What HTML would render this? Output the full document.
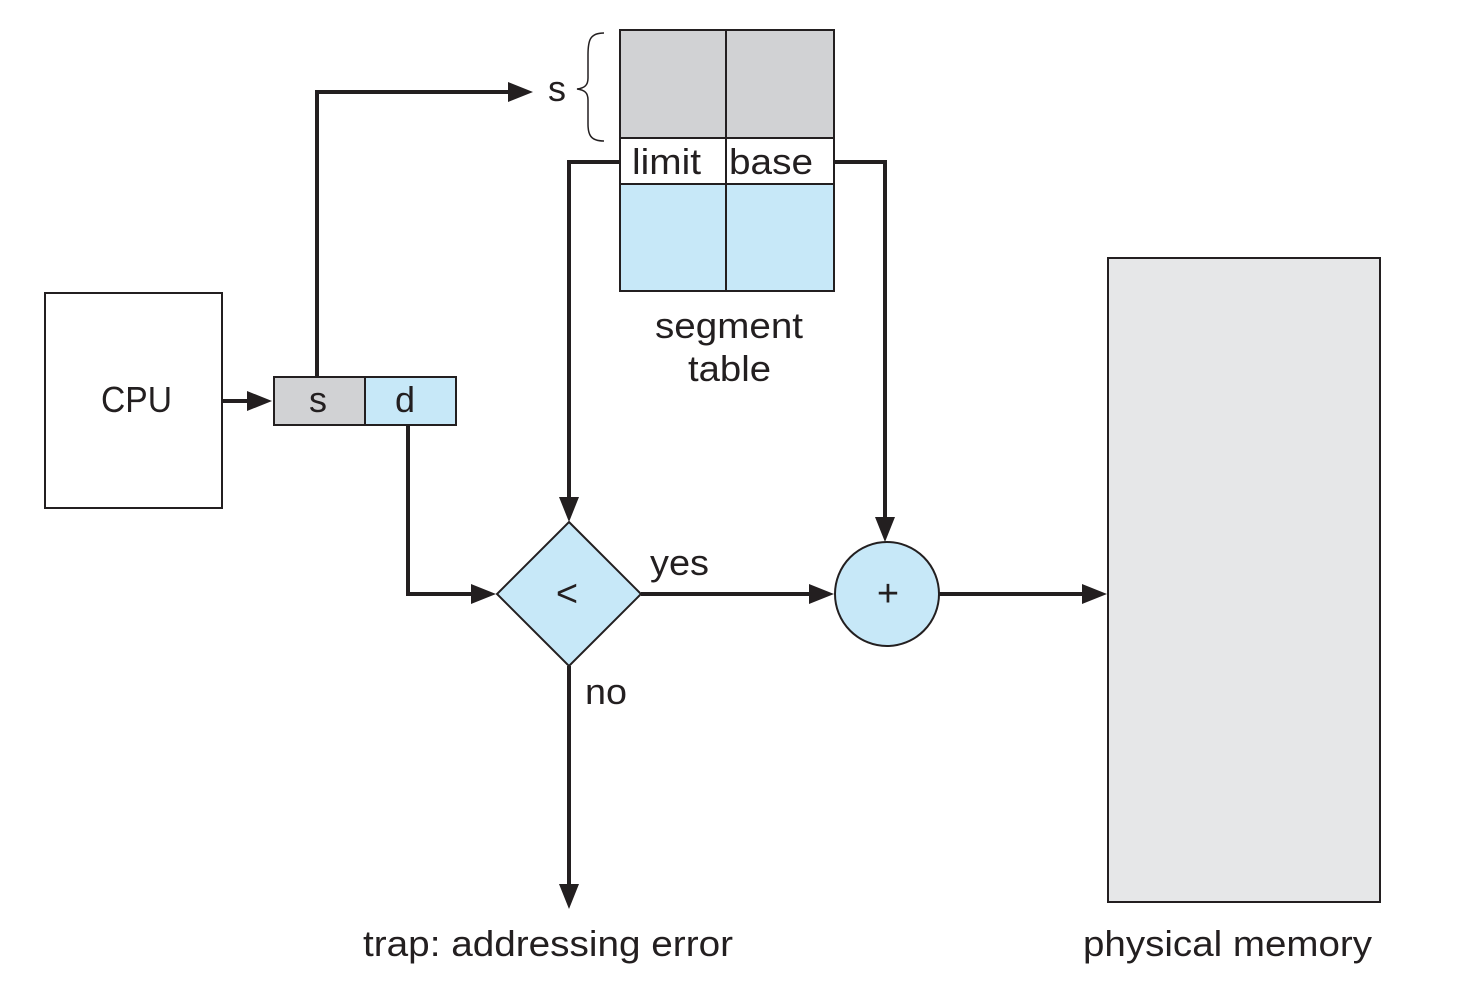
<!DOCTYPE html>
<html><head><meta charset="utf-8"><style>
html,body{margin:0;padding:0;background:#fff;}
svg{display:block;}
text{font-family:"Liberation Sans",Arial,sans-serif;fill:#231f20;}
</style></head><body>
<svg width="1484" height="996" viewBox="0 0 1484 996" xmlns="http://www.w3.org/2000/svg">
<g stroke="#231f20" stroke-width="2">
<rect x="45" y="293" width="177" height="215" fill="#fff"/>
<rect x="274" y="377" width="91" height="48" fill="#d1d2d4"/>
<rect x="365" y="377" width="91" height="48" fill="#c7e8f8"/>
<rect x="620" y="30" width="106" height="108" fill="#d1d2d4"/>
<rect x="726" y="30" width="108" height="108" fill="#d1d2d4"/>
<rect x="620" y="138" width="106" height="46" fill="#fff"/>
<rect x="726" y="138" width="108" height="46" fill="#fff"/>
<rect x="620" y="184" width="106" height="107" fill="#c7e8f8"/>
<rect x="726" y="184" width="108" height="107" fill="#c7e8f8"/>
<rect x="1108" y="258" width="272" height="644" fill="#e6e7e8"/>
<polygon points="569,522 641,594 569,666 497,594" fill="#c7e8f8"/>
<circle cx="887" cy="594" r="52" fill="#c7e8f8"/>
<path d="M604,33 C590,33 588,40 588,55 L588,78 C588,85 585,88 577,89 C585,90 588,93 588,100 L588,124 C588,134 590,141 604,141" fill="none" stroke-width="1.5"/>
</g>
<g stroke="#231f20" stroke-width="4" fill="none">
<path d="M222,401 H252"/>
<path d="M317,377 V92 H510"/>
<path d="M620,162 H569 V498"/>
<path d="M834,162 H885 V518"/>
<path d="M408,425 V594 H474"/>
<path d="M641,594 H812"/>
<path d="M939,594 H1085"/>
<path d="M569,666 V885"/>
</g>
<g fill="#231f20">
<polygon points="272,401 247,391 247,411"/>
<polygon points="533,92 508,82 508,102"/>
<polygon points="569,522 559,497 579,497"/>
<polygon points="885,542 875,517 895,517"/>
<polygon points="496,594 471,584 471,604"/>
<polygon points="834,594 809,584 809,604"/>
<polygon points="1107,594 1082,584 1082,604"/>
<polygon points="569,909 559,884 579,884"/>
</g>
<g font-size="36">
<text x="101" y="412" textLength="71" lengthAdjust="spacingAndGlyphs">CPU</text>
<text x="318" y="412" text-anchor="middle">s</text>
<text x="405" y="412" text-anchor="middle">d</text>
<text x="557" y="101" text-anchor="middle">s</text>
<text x="632" y="174" textLength="69" lengthAdjust="spacingAndGlyphs">limit</text>
<text x="729" y="174" textLength="84" lengthAdjust="spacingAndGlyphs">base</text>
<text x="655" y="338" textLength="148" lengthAdjust="spacingAndGlyphs">segment</text>
<text x="688" y="381" textLength="83" lengthAdjust="spacingAndGlyphs">table</text>
<text x="567" y="606" text-anchor="middle" font-size="38">&lt;</text>
<text x="888" y="606" text-anchor="middle" font-size="38">+</text>
<text x="650" y="575" textLength="59" lengthAdjust="spacingAndGlyphs">yes</text>
<text x="585" y="704" textLength="42" lengthAdjust="spacingAndGlyphs">no</text>
<text x="363" y="956" textLength="370" lengthAdjust="spacingAndGlyphs">trap: addressing error</text>
<text x="1083" y="956" textLength="289" lengthAdjust="spacingAndGlyphs">physical memory</text>
</g>
</svg>
</body></html>
